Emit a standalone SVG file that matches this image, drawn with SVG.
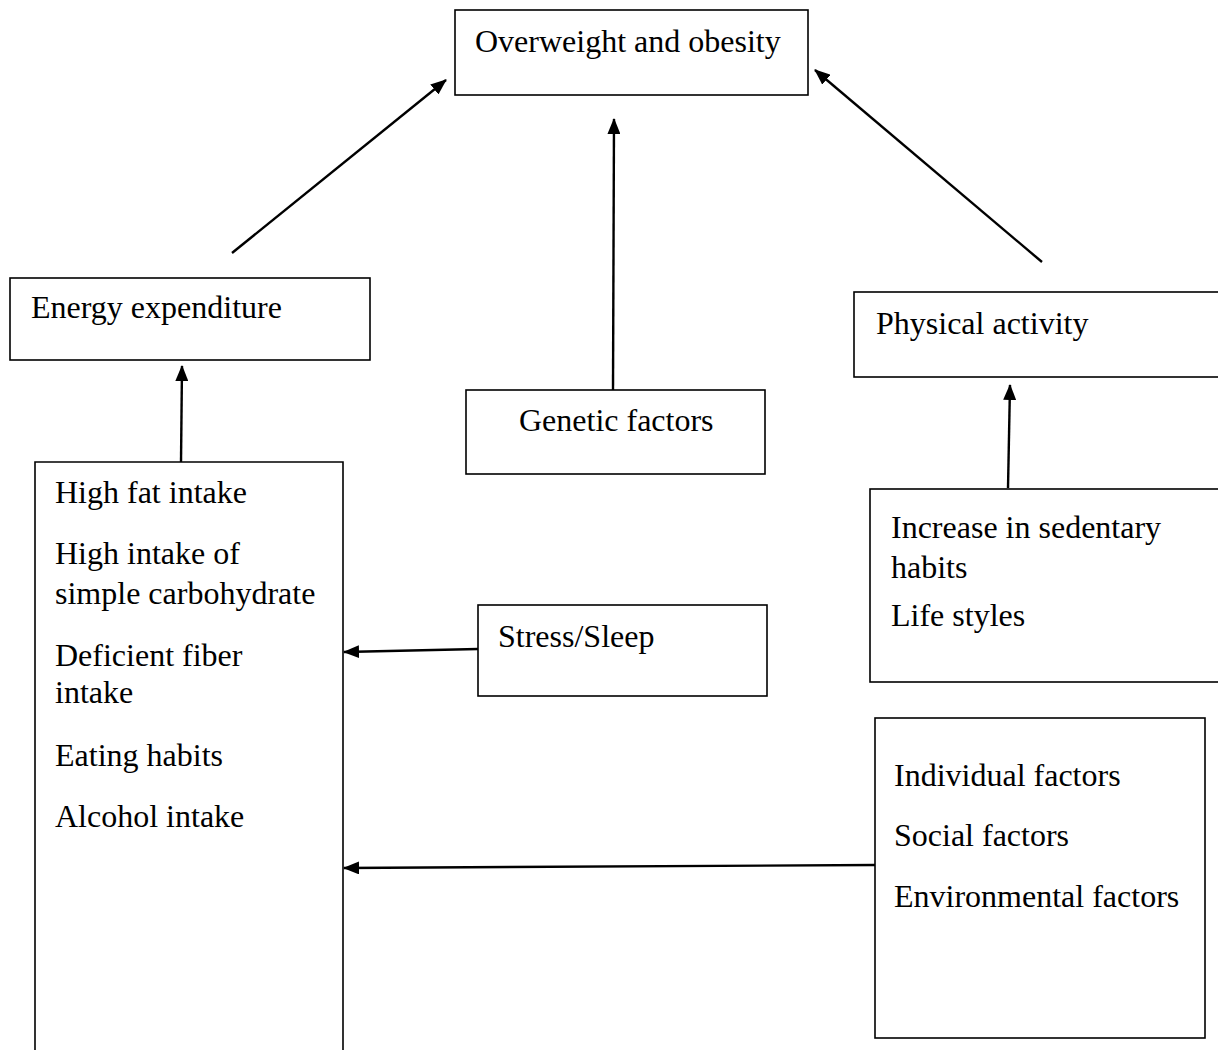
<svg xmlns="http://www.w3.org/2000/svg" width="1218" height="1050" viewBox="0 0 1218 1050">
<style>
.box{fill:#fff;stroke:#000;stroke-width:1.6}
.t{font-family:"Liberation Serif","Times New Roman",serif;font-size:32px;fill:#000}
.c{stroke:#000;stroke-width:2.4;fill:none}
</style>
<defs>
<marker id="ah" viewBox="0 0 16 13" refX="15" refY="6.5" markerWidth="16" markerHeight="13" markerUnits="userSpaceOnUse" orient="auto">
<path d="M0,0 L16,6.5 L0,13 Z" fill="#000"/>
</marker>
</defs>
<rect width="1218" height="1050" fill="#fff"/>
<g id="overweight"><rect class="box" x="455" y="10" width="353" height="85"/><text class="t" x="475" y="52">Overweight and obesity</text></g>
<g id="energy"><rect class="box" x="10" y="278" width="360" height="82"/><text class="t" x="31" y="318">Energy expenditure</text></g>
<g id="genetic"><rect class="box" x="466" y="390" width="299" height="84"/><text class="t" x="519" y="431">Genetic factors</text></g>
<g id="physical"><rect class="box" x="854" y="292" width="370" height="85"/><text class="t" x="876" y="334">Physical activity</text></g>
<g id="sedentary"><rect class="box" x="870" y="489" width="354" height="193"/><text class="t" x="891" y="538">Increase in sedentary</text><text class="t" x="891" y="578">habits</text><text class="t" x="891" y="626">Life styles</text></g>
<g id="diet"><path class="box" d="M35,1052 L35,462 L343,462 L343,1052"/><text class="t" x="55" y="503">High fat intake</text><text class="t" x="55" y="564">High intake of</text><text class="t" x="55" y="604">simple carbohydrate</text><text class="t" x="55" y="666">Deficient fiber</text><text class="t" x="55" y="703">intake</text><text class="t" x="55" y="766">Eating habits</text><text class="t" x="55" y="827">Alcohol intake</text></g>
<g id="stress"><rect class="box" x="478" y="605" width="289" height="91"/><text class="t" x="498" y="647">Stress/Sleep</text></g>
<g id="factors"><rect class="box" x="875" y="718" width="330" height="320"/><text class="t" x="894" y="786">Individual factors</text><text class="t" x="894" y="846">Social factors</text><text class="t" x="894" y="907">Environmental factors</text></g>
<g id="connectors">
<line class="c" x1="232" y1="253" x2="446" y2="80" marker-end="url(#ah)"/>
<line class="c" x1="1042" y1="262" x2="815" y2="70" marker-end="url(#ah)"/>
<line class="c" x1="613" y1="390" x2="614" y2="119" marker-end="url(#ah)"/>
<line class="c" x1="181" y1="462" x2="182" y2="366" marker-end="url(#ah)"/>
<line class="c" x1="1008" y1="488" x2="1010" y2="385" marker-end="url(#ah)"/>
<line class="c" x1="478" y1="649" x2="344" y2="652" marker-end="url(#ah)"/>
<line class="c" x1="875" y1="865" x2="344" y2="868" marker-end="url(#ah)"/>
</g>
</svg>
